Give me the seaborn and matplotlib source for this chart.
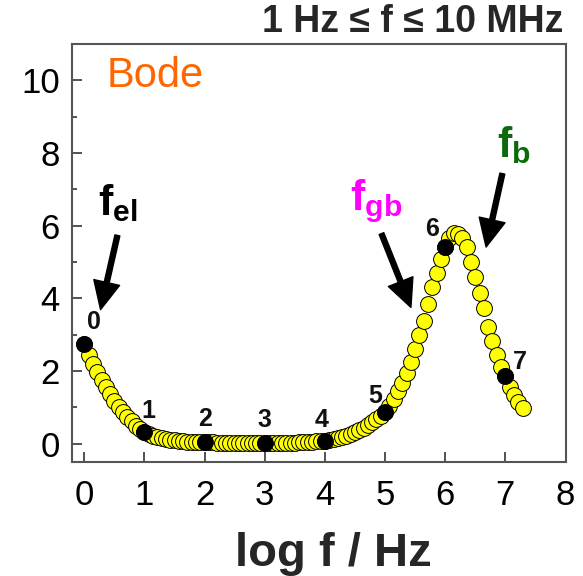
import matplotlib
matplotlib.use("Agg")
import matplotlib.pyplot as plt
import seaborn as sns
import pandas as pd

# ---- data ----
log_f = [
    0.000, 0.071, 0.143, 0.214, 0.286, 0.357, 0.429, 0.500, 0.571, 0.643, 0.714, 0.786, 0.857, 0.929,
    1.000, 1.071, 1.143, 1.214, 1.286, 1.357, 1.429, 1.500, 1.571, 1.643, 1.714, 1.786, 1.857, 1.929,
    2.000, 2.071, 2.143, 2.214, 2.286, 2.357, 2.429, 2.500, 2.571, 2.643, 2.714, 2.786, 2.857, 2.929,
    3.000, 3.071, 3.143, 3.214, 3.286, 3.357, 3.429, 3.500, 3.571, 3.643, 3.714, 3.786, 3.857, 3.929,
    4.000, 4.071, 4.143, 4.214, 4.286, 4.357, 4.429, 4.500, 4.571, 4.643, 4.714, 4.786, 4.857, 4.929,
    5.000, 5.071, 5.143, 5.214, 5.286, 5.357, 5.429, 5.500, 5.571, 5.643, 5.714, 5.786, 5.857, 5.929,
    6.000, 6.071, 6.143, 6.214, 6.286, 6.357, 6.429, 6.500, 6.571, 6.643, 6.714, 6.786, 6.857, 6.929,
    7.000, 7.071, 7.143, 7.214, 7.286,
]
values = [
    2.75, 2.45, 2.20, 1.97, 1.75, 1.55, 1.36, 1.18, 1.02, 0.88, 0.74, 0.62, 0.50, 0.40,
    0.31, 0.26, 0.22, 0.18, 0.15, 0.13, 0.11, 0.09, 0.08, 0.07, 0.06, 0.055, 0.05, 0.045,
    0.04, 0.038, 0.035, 0.033, 0.03, 0.028, 0.027, 0.026, 0.025, 0.024, 0.023, 0.022, 0.022, 0.021,
    0.02, 0.021, 0.022, 0.023, 0.025, 0.027, 0.03, 0.033, 0.037, 0.042, 0.048, 0.055, 0.063, 0.072,
    0.08, 0.10, 0.12, 0.15, 0.18, 0.22, 0.26, 0.31, 0.37, 0.44, 0.52, 0.60, 0.68, 0.77,
    0.87, 1.04, 1.23, 1.45, 1.68, 1.95, 2.25, 2.61, 2.98, 3.38, 3.85, 4.30, 4.70, 5.08,
    5.42, 5.65, 5.80, 5.78, 5.66, 5.40, 5.00, 4.60, 4.15, 3.72, 3.22, 2.82, 2.45, 2.12,
    1.85, 1.55, 1.33, 1.14, 0.98,
]
decade_labels = ["0", "1", "2", "3", "4", "5", "6", "7"]
decade_label_x = [0.16, 1.07, 2.00, 2.99, 3.94, 4.83, 5.78, 7.24]
decade_label_y = [3.34, 0.91, 0.68, 0.65, 0.65, 1.32, 5.91, 2.24]

x_ticks = [0, 1, 2, 3, 4, 5, 6, 7, 8]
y_ticks = [0, 2, 4, 6, 8, 10]
y_minor = [1, 3, 5, 7, 9]

df = pd.DataFrame({"log_f": log_f, "value": values})
df["decade"] = df["log_f"].isin([0.0, 1.0, 2.0, 3.0, 4.0, 5.0, 6.0, 7.0])

sns.set_style("ticks")
plt.rcParams["font.family"] = ["Liberation Sans", "DejaVu Sans"]
plt.rcParams["mathtext.fontset"] = "custom"
plt.rcParams["mathtext.rm"] = "Liberation Sans"
plt.rcParams["mathtext.bf"] = "Liberation Sans:bold"
plt.rcParams["mathtext.it"] = "Liberation Sans:italic"

fig = plt.figure(figsize=(5.83, 5.76), dpi=100)
ax = fig.add_axes([0.124, 0.198, 0.846, 0.726])

sns.scatterplot(data=df, x="log_f", y="value", ax=ax, color="#FFFF00",
                edgecolor="black", linewidth=0.7, s=130, zorder=3, legend=False)
sns.scatterplot(data=df[df["decade"]], x="log_f", y="value", ax=ax, color="black",
                edgecolor="black", linewidth=0.7, s=130, zorder=4, legend=False)

for lab, lx, ly in zip(decade_labels, decade_label_x, decade_label_y):
    ax.text(lx, ly, lab, ha="center", va="center", fontsize=18, fontweight="bold",
            color="#111111", zorder=5)

ax.set_xlim(-0.2, 8.0)
ax.set_ylim(-0.5, 11.0)
ax.set_xticks(x_ticks)
ax.set_yticks(y_ticks)
ax.set_yticks(y_minor, minor=True)
ax.tick_params(axis="both", which="major", direction="in", length=7, width=1.3,
               color="#444444", labelsize=25, labelcolor="black")
ax.tick_params(axis="x", which="major", pad=12)
ax.tick_params(axis="y", which="major", pad=9)
ax.tick_params(axis="y", which="minor", direction="in", length=3.5, width=1.3, color="#444444")
for sp in ax.spines.values():
    sp.set_visible(True)
    sp.set_color("#555555")
    sp.set_linewidth(1.5)

ax.set_xlabel("log f / Hz", fontsize=34, fontweight="bold")
ax.xaxis.set_label_coords(0.53, -0.168)
ax.set_ylabel("")

ax.text(0.07, 0.923, "Bode", transform=ax.transAxes, fontsize=30, color="#FF6600",
        ha="left", va="center")
fig.text(0.966, 0.962, "1 Hz \u2264 f \u2264 10 MHz", fontsize=27, fontweight="bold",
         ha="right", va="center")

arrow = dict(width=3.6, headwidth=19, headlength=20, color="black", shrink=0)
ax.annotate("", xy=(0.27, 3.69), xytext=(0.55, 5.73), arrowprops=arrow)
ax.annotate("", xy=(5.43, 3.75), xytext=(4.94, 5.78), arrowprops=arrow)
ax.annotate("", xy=(6.68, 5.41), xytext=(6.95, 7.43), arrowprops=arrow)

ax.text(0.22, 6.28, r"$\mathbf{f}_{\mathbf{el}}$", fontsize=31, color="black",
        ha="left", va="baseline")
ax.text(4.42, 6.42, r"$\mathbf{f}_{\mathbf{gb}}$", fontsize=31, color="#FF00FF",
        ha="left", va="baseline")
ax.text(6.86, 7.88, r"$\mathbf{f}_{\mathbf{b}}$", fontsize=31, color="#0B6B0B",
        ha="left", va="baseline")

fig.savefig("out.png", dpi=100)
